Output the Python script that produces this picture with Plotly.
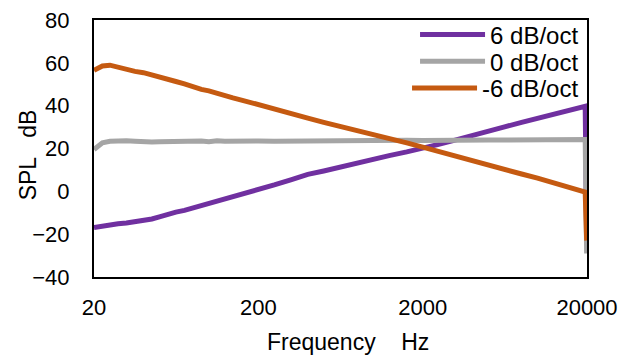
import plotly.graph_objects as go

# Frequencies (Hz)
freq = [20, 22.5, 25, 28, 31.5, 35.5, 40, 45, 50, 56, 63, 71, 80, 90, 100,
        112, 125, 140, 160, 180, 200, 250, 315, 400, 500, 630, 800, 1000,
        1250, 1600, 2000, 2500, 3150, 4000, 5000, 6300, 8000, 10000, 12500,
        16000, 19500, 19900]

spl_pos6 = [-16.9, -16.1, -15.5, -15.1, -14.8, -14.3, -13.8, -12.9, -11.9, -10.6,
            -9.7, -8.9, -7.8, -6.8, -5.8, -4.8, -3.8, -2.7, -1.4, -0.3, 0.9,
            3.0, 5.4, 7.9, 9.5, 11.4, 13.4, 15.1, 16.7, 18.4, 19.9, 21.9, 23.9,
            26.2, 28.3, 30.1, 32.2, 34.0, 35.9, 38.0, 39.7, -20]

spl_zero = [19.5, 22.7, 23.4, 23.6, 23.6, 23.4, 23.0, 23.0, 23.2, 23.3, 23.4,
            23.3, 23.3, 23.5, 23.2, 23.6, 23.4, 23.5, 23.3, 23.5, 23.5, 23.4,
            23.5, 23.4, 23.6, 23.6, 23.5, 23.7, 23.6, 23.8, 23.7, 23.9, 23.8,
            23.9, 24.0, 24.0, 24.1, 24.0, 24.1, 24.1, 24.2, -29]

spl_neg6 = [56.5, 58.5, 58.9, 57.9, 56.9, 56.0, 55.4, 54.2, 53.5, 52.3, 51.3,
            50.2, 48.8, 47.6, 46.9, 45.6, 44.7, 43.6, 42.5, 41.5, 40.5, 38.4,
            36.3, 34.2, 32.2, 30.4, 28.5, 26.7, 24.9, 22.6, 20.6, 18.5, 16.4,
            14.1, 12.1, 10.1, 8.1, 6.2, 4.2, 1.7, -0.3, -23]

series_names = ["6 dB/oct", "0 dB/oct", "-6 dB/oct"]
series_colors = ["#7030A0", "#A5A5A5", "#C55A11"]

x_ticks = [20, 200, 2000, 20000]
x_ticktext = ["20", "200", "2000", "20000"]
y_ticks = [-40, -20, 0, 20, 40, 60, 80]

x_title = "Frequency\u00a0\u00a0\u00a0\u00a0Hz"
y_title = "SPL\u00a0\u00a0\u00a0dB"

FONT = "Liberation Sans, Arial, sans-serif"

legend_ids = ["legend", "legend2", "legend3"]
legend_y = [0.942, 0.838, 0.734]

fig = go.Figure()
for name, ys, col, lid in zip(series_names, [spl_pos6, spl_zero, spl_neg6],
                              series_colors, legend_ids):
    fig.add_trace(go.Scatter(x=freq, y=ys, mode="lines", name=name, legend=lid,
                             line=dict(color=col, width=5)))

layout_legends = {}
for lid, ly in zip(legend_ids, legend_y):
    layout_legends[lid] = dict(x=0.994, xanchor="right", y=ly, yanchor="middle",
                               bgcolor="rgba(0,0,0,0)", font=dict(size=24),
                               itemwidth=65)

fig.update_layout(
    width=633, height=356,
    margin=dict(l=94, r=46, t=18, b=79),
    paper_bgcolor="white", plot_bgcolor="white",
    font=dict(family=FONT, size=22, color="black"),
    showlegend=True,
    **layout_legends,
)
fig.update_xaxes(type="log", range=[1.30103, 4.30103],
                 tickvals=x_ticks, ticktext=x_ticktext,
                 showgrid=False, zeroline=False, automargin=False,
                 showline=True, linecolor="black", linewidth=2, mirror=True,
                 ticks="", ticklabelstandoff=10)
fig.update_yaxes(range=[-40, 80], tickvals=y_ticks,
                 showgrid=False, zeroline=False, automargin=False,
                 showline=True, linecolor="black", linewidth=2, mirror=True,
                 ticks="", ticklabelstandoff=18)

fig.add_annotation(text=x_title, xref="paper", yref="paper", x=0.516, y=-0.251,
                   xanchor="center", yanchor="middle", showarrow=False,
                   font=dict(size=23))
fig.add_annotation(text=y_title, xref="paper", yref="paper", x=-0.134, y=0.477,
                   xanchor="center", yanchor="middle", showarrow=False,
                   textangle=-90, font=dict(size=23))

fig.write_html("out.html")
